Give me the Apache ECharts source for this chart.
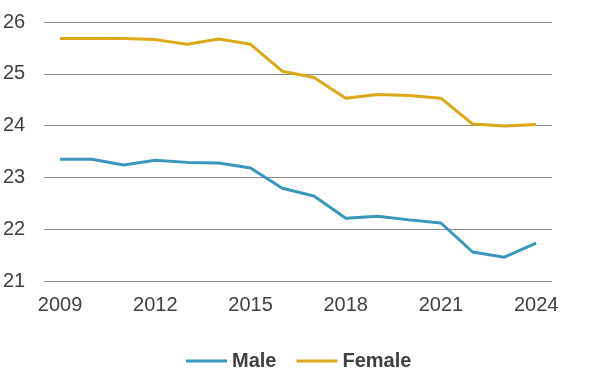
<!DOCTYPE html>
<html><head><meta charset="utf-8">
<script src="https://cdn.jsdelivr.net/npm/echarts@6/dist/echarts.min.js"></script>
<style>html,body{margin:0;padding:0;background:#fff}#c{width:592px;height:391px}</style>
</head><body><div id="c"></div>
<script>
const years = ['2009','2010','2011','2012','2013','2014','2015','2016','2017','2018','2019','2020','2021','2022','2023','2024'];
const male = [23.35,23.35,23.24,23.33,23.29,23.28,23.18,22.79,22.64,22.21,22.25,22.18,22.12,21.56,21.46,21.73];
const female = [25.68,25.68,25.68,25.66,25.57,25.67,25.57,25.05,24.93,24.53,24.60,24.58,24.53,24.03,23.99,24.02];
const yTicks = {min:21, max:26, interval:1};
const chart = echarts.init(document.getElementById('c'));
const font = 'Liberation Sans, Arial, sans-serif';
chart.setOption({
  animation:false,
  grid:{left:44,right:40,top:22,bottom:110},
  legend:{top:351,left:186,padding:0,itemWidth:41,itemHeight:3,itemGap:20,
    icon:'rect',
    textStyle:{fontFamily:font,fontSize:20,fontWeight:'bold',color:'#404040'},
    data:['Male','Female']},
  xAxis:{type:'category',data:years,boundaryGap:true,
    axisLine:{show:false},axisTick:{show:false},
    axisLabel:{interval:2,margin:14,fontFamily:font,fontSize:20,color:'#404040'}},
  yAxis:{type:'value',min:yTicks.min,max:yTicks.max,interval:yTicks.interval,
    axisLine:{show:false},axisTick:{show:false},
    splitLine:{lineStyle:{color:'#8c8c8c',width:1}},
    axisLabel:{margin:19,fontFamily:font,fontSize:20,color:'#404040'}},
  series:[
    {name:'Male',type:'line',data:male,symbol:'none',lineStyle:{color:'#3a96bb',width:3},itemStyle:{color:'#3a96bb'}},
    {name:'Female',type:'line',data:female,symbol:'none',lineStyle:{color:'#dba917',width:3},itemStyle:{color:'#dba917'}}
  ]
});
</script></body></html>
